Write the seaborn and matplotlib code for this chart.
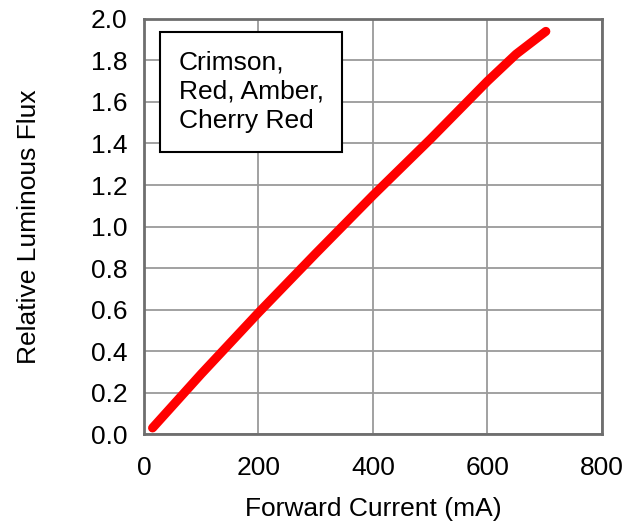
import numpy as np
import pandas as pd
import matplotlib
matplotlib.use("Agg")
import matplotlib.pyplot as plt
import seaborn as sns

# values
current_ma = [15, 100, 200, 300, 400, 500, 600, 650, 702]
rel_flux = [0.03, 0.29, 0.585, 0.87, 1.15, 1.42, 1.70, 1.83, 1.94]
x_ticks = [0, 200, 400, 600, 800]
y_ticks = [0.0, 0.2, 0.4, 0.6, 0.8, 1.0, 1.2, 1.4, 1.6, 1.8, 2.0]
box_label = "Crimson,\nRed, Amber,\nCherry Red"

sns.set_style("white")
plt.rcParams['font.family'] = ['Liberation Sans', 'DejaVu Sans']
plt.rcParams['text.color'] = 'black'
plt.rcParams['axes.labelcolor'] = 'black'
plt.rcParams['xtick.color'] = 'black'
plt.rcParams['ytick.color'] = 'black'

df = pd.DataFrame({'Forward Current (mA)': current_ma, 'Relative Luminous Flux': rel_flux})

fig = plt.figure(figsize=(6.37, 5.25), dpi=100)
ax = fig.add_axes([0.226, 0.173, 0.719, 0.791])

sns.lineplot(data=df, x='Forward Current (mA)', y='Relative Luminous Flux', ax=ax,
             color='#ff0000', linewidth=6.5, solid_capstyle='round', zorder=3)

ax.set_xlim(0, 800)
ax.set_ylim(0, 2.0)
ax.set_xticks(x_ticks)
ax.set_yticks(y_ticks)
ax.set_xticklabels([str(v) for v in x_ticks])
ax.set_yticklabels([f"{v:.1f}" for v in y_ticks])
ax.grid(True, color='#9a9a9a', linewidth=1.3)
ax.set_axisbelow(True)
for s in ax.spines.values():
    s.set_color('#6e6e6e')
    s.set_linewidth(2)
ax.tick_params(axis='x', labelsize=19, length=0, pad=16)
ax.tick_params(axis='y', labelsize=19, length=0, pad=12)
ax.set_xlabel('Forward Current (mA)', fontsize=19, labelpad=12)
ax.set_ylabel('Relative Luminous Flux', fontsize=19, labelpad=36)

ax.text(0.076, 0.925, box_label, transform=ax.transAxes, fontsize=19, va='top', ha='left',
        linespacing=1.3, zorder=5,
        bbox=dict(boxstyle='square,pad=0.7', facecolor='white', edgecolor='black', linewidth=1.5))

fig.savefig('out.png', dpi=100)
